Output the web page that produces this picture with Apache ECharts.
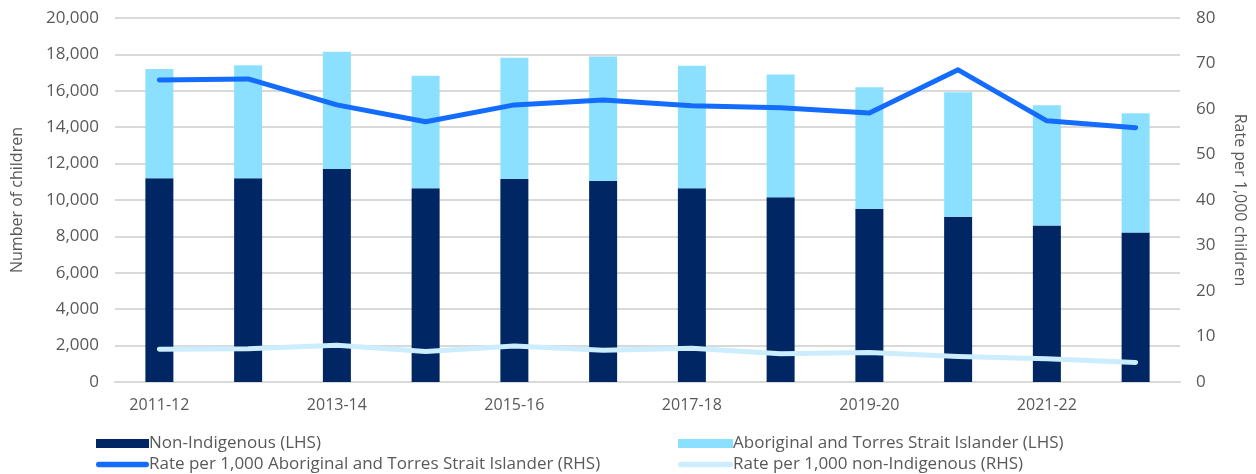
<!DOCTYPE html>
<html>
<head>
<meta charset="utf-8">
<script src="https://cdn.jsdelivr.net/npm/echarts@6/dist/echarts.min.js"></script>
<style>
  html, body { margin: 0; padding: 0; background: #fff; }
  #chart { width: 1256px; height: 474px; }
</style>
</head>
<body>
<div id="chart"></div>
<script>
// 年份
const years = ['2011-12', '2012-13', '2013-14', '2014-15', '2015-16', '2016-17',
  '2017-18', '2018-19', '2019-20', '2020-21', '2021-22', '2022-23'];

// number of children (LHS)
const nonIndigenous = [11200, 11200, 11700, 10650, 11150, 11050, 10650, 10150, 9500, 9080, 8600, 8220];
const aboriginal = [6000, 6200, 6450, 6180, 6670, 6830, 6730, 6740, 6690, 6840, 6600, 6540];

// rate per 1,000 (RHS)
const rateAboriginal = [66.4, 66.6, 60.9, 57.2, 60.9, 62.0, 60.7, 60.3, 59.1, 68.6, 57.4, 55.9];
const rateNonIndigenous = [7.2, 7.3, 8.1, 6.7, 7.9, 7.0, 7.4, 6.2, 6.5, 5.6, 5.1, 4.3];

const names = [
  'Non-Indigenous (LHS)',
  'Aboriginal and Torres Strait Islander (LHS)',
  'Rate per 1,000 Aboriginal and Torres Strait Islander (RHS)',
  'Rate per 1,000 non-Indigenous (RHS)'
];

const font = 'Open Sans';
const grey = '#595959';

const chart = echarts.init(document.getElementById('chart'), null, { renderer: 'canvas' });

// thin rounded line icon for the rate series
const lineIcon = 'path://M5,0 L95,0 A5,5 0 0 1 95,10 L5,10 A5,5 0 0 1 5,0 Z';

const legendText = { fontSize: 17, color: grey, fontFamily: font, lineHeight: 19, padding: [0, 0, 0, -5] };

const option = {
  animation: false,
  textStyle: { fontFamily: font },
  grid: { left: 115, right: 73, top: 18, bottom: 92 },
  legend: [
    {
      orient: 'vertical',
      left: 91, top: 429, height: 60,
      itemWidth: 53, itemHeight: 9, itemGap: 2,
      textStyle: legendText,
      data: [
        { name: names[0], icon: 'rect' },
        { name: names[2], icon: lineIcon }
      ]
    },
    {
      orient: 'vertical',
      left: 673, top: 429, height: 60,
      itemWidth: 55, itemHeight: 9, itemGap: 2,
      textStyle: legendText,
      data: [
        { name: names[1], icon: 'rect' },
        { name: names[3], icon: lineIcon }
      ]
    }
  ],
  xAxis: {
    type: 'category',
    data: years,
    axisTick: { show: false },
    axisLine: { lineStyle: { color: '#d9d9d9', width: 2 } },
    axisLabel: { interval: 1, color: grey, fontSize: 16, margin: 15, fontFamily: font }
  },
  yAxis: [
    {
      type: 'value',
      min: 0, max: 20000, interval: 2000,
      name: 'Number of children',
      nameLocation: 'middle',
      nameGap: 90,
      nameRotate: 90,
      nameTextStyle: { color: grey, fontSize: 16, fontFamily: font },
      axisLabel: {
        color: grey, fontSize: 17, margin: 16,
        formatter: v => v.toLocaleString('en-US')
      },
      splitLine: { lineStyle: { color: '#d9d9d9', width: 2 } },
      axisLine: { show: false },
      axisTick: { show: false }
    },
    {
      type: 'value',
      min: 0, max: 80, interval: 10,
      name: 'Rate per 1,000 children',
      nameLocation: 'middle',
      nameGap: 52,
      nameRotate: -90,
      nameTextStyle: { color: grey, fontSize: 16, fontFamily: font },
      axisLabel: { color: grey, fontSize: 17, margin: 16 },
      splitLine: { show: false },
      axisLine: { show: false },
      axisTick: { show: false }
    }
  ],
  series: [
    {
      name: names[0], type: 'bar', stack: 'n',
      data: nonIndigenous, barWidth: 28,
      itemStyle: { color: '#002664' }
    },
    {
      name: names[1], type: 'bar', stack: 'n',
      data: aboriginal, barWidth: 28,
      itemStyle: { color: '#8ce0ff' }
    },
    {
      name: names[2], type: 'line', yAxisIndex: 1,
      data: rateAboriginal, showSymbol: false, z: 5,
      lineStyle: { color: '#146cfd', width: 5, cap: 'round', join: 'round' },
      itemStyle: { color: '#146cfd' }
    },
    {
      name: names[3], type: 'line', yAxisIndex: 1,
      data: rateNonIndigenous, showSymbol: false, z: 4,
      lineStyle: { color: '#cbedfd', width: 5, cap: 'round', join: 'round' },
      itemStyle: { color: '#cbedfd' }
    }
  ]
};

chart.setOption(option);
</script>
</body>
</html>
